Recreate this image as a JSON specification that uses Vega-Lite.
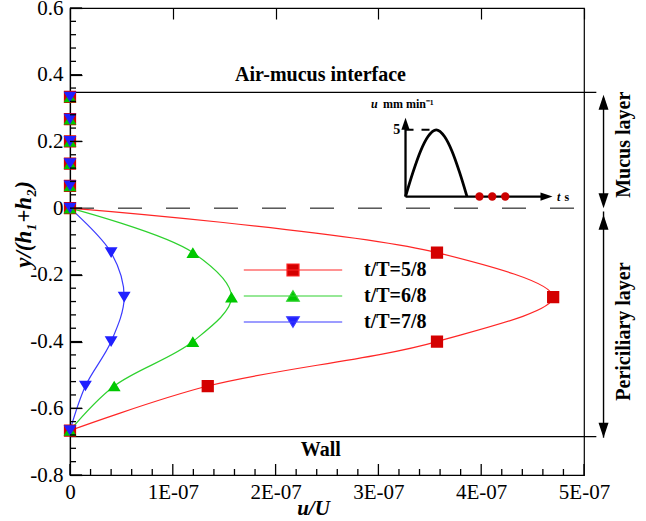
{
  "$schema": "https://vega.github.io/schema/vega-lite/v6.json",
  "width": 514,
  "height": 467,
  "autosize": {"type": "none"},
  "padding": {"left": 70, "top": 8, "right": 62, "bottom": 46},
  "background": "white",
  "config": {"view": {"stroke": "black", "strokeWidth": 1.2}, "font": "Liberation Serif"},
  "datasets": {
    "profiles": [
      {"series": "t/T=5/8", "y": 0.3333, "u": 0},
      {"series": "t/T=5/8", "y": 0.2667, "u": 0},
      {"series": "t/T=5/8", "y": 0.2, "u": 0},
      {"series": "t/T=5/8", "y": 0.1333, "u": 0},
      {"series": "t/T=5/8", "y": 0.0667, "u": 0},
      {"series": "t/T=5/8", "y": 0, "u": 0},
      {"series": "t/T=5/8", "y": -0.1333, "u": 3.57e-7},
      {"series": "t/T=5/8", "y": -0.2667, "u": 4.70e-7},
      {"series": "t/T=5/8", "y": -0.4, "u": 3.57e-7},
      {"series": "t/T=5/8", "y": -0.5333, "u": 1.34e-7},
      {"series": "t/T=5/8", "y": -0.6667, "u": 0},
      {"series": "t/T=6/8", "y": 0.3333, "u": 0},
      {"series": "t/T=6/8", "y": 0.2667, "u": 0},
      {"series": "t/T=6/8", "y": 0.2, "u": 0},
      {"series": "t/T=6/8", "y": 0.1333, "u": 0},
      {"series": "t/T=6/8", "y": 0.0667, "u": 0},
      {"series": "t/T=6/8", "y": 0, "u": 0},
      {"series": "t/T=6/8", "y": -0.1333, "u": 1.195e-7},
      {"series": "t/T=6/8", "y": -0.2667, "u": 1.571e-7},
      {"series": "t/T=6/8", "y": -0.4, "u": 1.195e-7},
      {"series": "t/T=6/8", "y": -0.5333, "u": 0.43e-7},
      {"series": "t/T=6/8", "y": -0.6667, "u": 0},
      {"series": "t/T=7/8", "y": 0.3333, "u": 0},
      {"series": "t/T=7/8", "y": 0.2667, "u": 0},
      {"series": "t/T=7/8", "y": 0.2, "u": 0},
      {"series": "t/T=7/8", "y": 0.1333, "u": 0},
      {"series": "t/T=7/8", "y": 0.0667, "u": 0},
      {"series": "t/T=7/8", "y": 0, "u": 0},
      {"series": "t/T=7/8", "y": -0.1333, "u": 0.40e-7},
      {"series": "t/T=7/8", "y": -0.2667, "u": 0.527e-7},
      {"series": "t/T=7/8", "y": -0.4, "u": 0.40e-7},
      {"series": "t/T=7/8", "y": -0.5333, "u": 0.15e-7},
      {"series": "t/T=7/8", "y": -0.6667, "u": 0}
    ],
    "ytick_major": [{"u": 0, "v": -0.8}, {"u": 0, "v": -0.6}, {"u": 0, "v": -0.4}, {"u": 0, "v": -0.2}, {"u": 0, "v": 0}, {"u": 0, "v": 0.2}, {"u": 0, "v": 0.4}, {"u": 0, "v": 0.6}],
    "ytick_minor": [{"u": 0, "v": -0.76}, {"u": 0, "v": -0.72}, {"u": 0, "v": -0.68}, {"u": 0, "v": -0.64}, {"u": 0, "v": -0.56}, {"u": 0, "v": -0.52}, {"u": 0, "v": -0.48}, {"u": 0, "v": -0.44}, {"u": 0, "v": -0.36}, {"u": 0, "v": -0.32}, {"u": 0, "v": -0.28}, {"u": 0, "v": -0.24}, {"u": 0, "v": -0.16}, {"u": 0, "v": -0.12}, {"u": 0, "v": -0.08}, {"u": 0, "v": -0.04}, {"u": 0, "v": 0.04}, {"u": 0, "v": 0.08}, {"u": 0, "v": 0.12}, {"u": 0, "v": 0.16}, {"u": 0, "v": 0.24}, {"u": 0, "v": 0.28}, {"u": 0, "v": 0.32}, {"u": 0, "v": 0.36}, {"u": 0, "v": 0.44}, {"u": 0, "v": 0.48}, {"u": 0, "v": 0.52}, {"u": 0, "v": 0.56}],
    "xtick_major": [{"v": 0, "y": -0.8}, {"v": 1e-7, "y": -0.8}, {"v": 2e-7, "y": -0.8}, {"v": 3e-7, "y": -0.8}, {"v": 4e-7, "y": -0.8}, {"v": 5e-7, "y": -0.8}],
    "xtick_minor": [{"v": 2e-8, "y": -0.8}, {"v": 4e-8, "y": -0.8}, {"v": 6e-8, "y": -0.8}, {"v": 8e-8, "y": -0.8}, {"v": 1.2e-7, "y": -0.8}, {"v": 1.4e-7, "y": -0.8}, {"v": 1.6e-7, "y": -0.8}, {"v": 1.8e-7, "y": -0.8}, {"v": 2.2e-7, "y": -0.8}, {"v": 2.4e-7, "y": -0.8}, {"v": 2.6e-7, "y": -0.8}, {"v": 2.8e-7, "y": -0.8}, {"v": 3.2e-7, "y": -0.8}, {"v": 3.4e-7, "y": -0.8}, {"v": 3.6e-7, "y": -0.8}, {"v": 3.8e-7, "y": -0.8}, {"v": 4.2e-7, "y": -0.8}, {"v": 4.4e-7, "y": -0.8}, {"v": 4.6e-7, "y": -0.8}, {"v": 4.8e-7, "y": -0.8}],
    "hlines": [
      {"y": 0.347, "u": 0, "u2": 5.12e-7},
      {"y": -0.685, "u": 0, "u2": 5.12e-7}
    ],
    "zeroline": [{"y": 0, "u": 0, "u2": 5.12e-7}],
    "notes": [
      {"label": "Air-mucus interface", "u": 2.437e-7, "y": 0.40},
      {"label": "Wall", "u": 2.44e-7, "y": -0.724}
    ],
    "sidenotes": [
      {"label": "Mucus layer", "u": 5.385e-7, "y": 0.19},
      {"label": "Periciliary layer", "u": 5.385e-7, "y": -0.37}
    ],
    "arrows": [
      {"u": 5.19e-7, "y": 0.33, "y2": 0.01},
      {"u": 5.19e-7, "y": -0.01, "y2": -0.688}
    ],
    "arrowheads": [
      {"u": 5.19e-7, "y": 0.34, "dir": "up"},
      {"u": 5.19e-7, "y": 0.0, "dir": "down"},
      {"u": 5.19e-7, "y": -0.02, "dir": "up"},
      {"u": 5.19e-7, "y": -0.688, "dir": "down"}
    ],
    "inset_curve": [
      {"t": 0, "u": 0},
      {"t": 0.5, "u": 1.83},
      {"t": 1.0, "u": 3.4},
      {"t": 1.5, "u": 4.5},
      {"t": 2.05, "u": 5},
      {"t": 2.6, "u": 4.5},
      {"t": 3.1, "u": 3.4},
      {"t": 3.6, "u": 1.83},
      {"t": 4.1, "u": 0}
    ],
    "inset_axes": [
      {"t": 0, "u": 0, "t2": 9.3, "u2": 0},
      {"t": 0, "u": 0, "t2": 0, "u2": 5.4}
    ],
    "inset_heads": [
      {"t": 9.8, "u": 0, "dir": "right"},
      {"t": 0, "u": 5.9, "dir": "up"}
    ],
    "inset_dash": [{"t": 0, "u": 5, "t2": 2.05, "u2": 5}],
    "inset_dots": [
      {"t": 4.93, "u": 0},
      {"t": 5.78, "u": 0},
      {"t": 6.65, "u": 0}
    ],
    "inset_italic": [
      {"label": "u", "t": -2.3, "u": 6.9},
      {"label": "t", "t": 10.1, "u": 0}
    ],
    "inset_plain": [
      {"label": "mm min⁻¹", "t": -1.5, "u": 6.9},
      {"label": "s", "t": 10.6, "u": 0}
    ],
    "inset_five": [{"label": "5", "t": -0.35, "u": 5}]
  },
  "layer": [
    {
      "data": {"name": "hlines"},
      "mark": {"type": "rule", "stroke": "black", "strokeWidth": 1.4},
      "encoding": {
        "x": {
          "field": "u", "type": "quantitative",
          "scale": {"domain": [0, 5e-7], "nice": false, "zero": false},
          "axis": {
            "orient": "bottom",
            "title": "u/U",
            "values": [0, 1e-7, 2e-7, 3e-7, 4e-7, 5e-7],
            "labelExpr": "datum.value == 0 ? '0' : round(datum.value*1e7) + 'E-07'",
            "ticks": false,
            "grid": true,
            "gridDash": [11, 2000],
            "gridColor": "black",
            "gridWidth": 1.2,
            "gridOpacity": 1,
            "labelPadding": 6,
            "labelFont": "Liberation Serif",
            "labelFontSize": 21,
            "labelColor": "black",
            "labelOverlap": false,
            "labelFlush": false,
            "domainColor": "black",
            "domainWidth": 1.2,
            "titleFont": "Liberation Serif",
            "titleFontSize": 21,
            "titleFontWeight": "bold",
            "titleFontStyle": "italic",
            "titleColor": "black",
            "titleX": 243,
            "titleY": 33,
            "titleBaseline": "middle"
          }
        },
        "x2": {"field": "u2"},
        "y": {
          "field": "y", "type": "quantitative",
          "scale": {"domain": [-0.8, 0.6], "nice": false, "zero": false},
          "axis": {
            "orient": "left",
            "title": "y/(h₁+h₂)",
            "values": [-0.8, -0.6, -0.4, -0.2, 0, 0.2, 0.4, 0.6],
            "labelExpr": "abs(datum.value) < 1e-9 ? '0' : replace(format(datum.value, '.1f'), '−', '-')",
            "ticks": false,
            "grid": true,
            "gridDash": [12, 2000],
            "gridColor": "black",
            "gridWidth": 1.2,
            "gridOpacity": 1,
            "labelPadding": 7,
            "labelFont": "Liberation Serif",
            "labelFontSize": 21,
            "labelColor": "black",
            "labelOverlap": false,
            "labelFlush": false,
            "domainColor": "black",
            "domainWidth": 1.2,
            "titleFont": "Liberation Serif",
            "titleFontSize": 23,
            "titleFontWeight": "bold",
            "titleFontStyle": "italic",
            "titleColor": "black",
            "titleX": -47,
            "titleY": 216,
            "titleAngle": 270,
            "titleBaseline": "middle",
            "titleAlign": "center"
          }
        }
      }
    },
    {
      "data": {"name": "zeroline"},
      "mark": {"type": "rule", "stroke": "black", "strokeWidth": 1, "strokeDash": [24, 24]},
      "encoding": {
        "x": {"field": "u", "type": "quantitative", "scale": {"domain": [0, 5e-7], "nice": false, "zero": false}, "axis": null},
        "x2": {"field": "u2"},
        "y": {"field": "y", "type": "quantitative", "scale": {"domain": [-0.8, 0.6], "nice": false, "zero": false}, "axis": null}
      }
    },
    {
      "data": {"name": "arrows"},
      "mark": {"type": "rule", "stroke": "black", "strokeWidth": 1.4},
      "encoding": {
        "x": {"field": "u", "type": "quantitative", "scale": {"domain": [0, 5e-7], "nice": false, "zero": false}, "axis": null},
        "y": {"field": "y", "type": "quantitative", "scale": {"domain": [-0.8, 0.6], "nice": false, "zero": false}, "axis": null},
        "y2": {"field": "y2"}
      }
    },
    {
      "data": {"name": "profiles"},
      "transform": [{"filter": "datum.y <= 0"}],
      "mark": {"type": "line", "interpolate": "catmull-rom", "strokeWidth": 1.2},
      "encoding": {
        "x": {"field": "u", "type": "quantitative", "scale": {"domain": [0, 5e-7], "nice": false, "zero": false}, "axis": null},
        "y": {"field": "y", "type": "quantitative", "scale": {"domain": [-0.8, 0.6], "nice": false, "zero": false}, "axis": null},
        "stroke": {
          "field": "series", "type": "nominal",
          "scale": {"domain": ["t/T=5/8", "t/T=6/8", "t/T=7/8"], "range": ["#ff2626", "#2ed12e", "#3a3aff"]},
          "legend": {
            "title": null, "orient": "none", "legendX": 213, "legendY": 252, "padding": 0,
            "symbolSize": 144, "symbolStrokeWidth": 1.2, "labelFont": "Liberation Serif", "labelFontSize": 20, "labelFontWeight": "bold",
            "labelColor": "black", "labelOffset": 61, "rowPadding": 6
          }
        },
        "order": {"field": "y", "sort": "descending"}
      }
    },
    {
      "data": {"name": "profiles"},
      "mark": {"type": "point", "filled": true, "size": 150, "opacity": 1, "strokeWidth": 0},
      "encoding": {
        "x": {"field": "u", "type": "quantitative", "scale": {"domain": [0, 5e-7], "nice": false, "zero": false}, "axis": null},
        "y": {"field": "y", "type": "quantitative", "scale": {"domain": [-0.8, 0.6], "nice": false, "zero": false}, "axis": null},
        "fill": {
          "field": "series", "type": "nominal",
          "scale": {"domain": ["t/T=5/8", "t/T=6/8", "t/T=7/8"], "range": ["#d40000", "#00c800", "#2020ff"]},
          "legend": {
            "title": null, "orient": "none", "legendX": 213, "legendY": 252, "padding": 0,
            "symbolSize": 144, "symbolStrokeWidth": 1.2, "labelFont": "Liberation Serif", "labelFontSize": 20, "labelFontWeight": "bold",
            "labelColor": "black", "labelOffset": 61, "rowPadding": 6
          }
        },
        "shape": {
          "field": "series", "type": "nominal",
          "scale": {"domain": ["t/T=5/8", "t/T=6/8", "t/T=7/8"], "range": ["M-8.2,0L8.2,0M-1,-1L1,-1L1,1L-1,1Z", "M-8.2,0L8.2,0M0,-0.87L1.05,0.87L-1.05,0.87Z", "M-8.2,0L8.2,0M0,0.87L1.05,-0.87L-1.05,-0.87Z"]},
          "legend": {
            "title": null, "orient": "none", "legendX": 213, "legendY": 252, "padding": 0,
            "symbolSize": 144, "symbolStrokeWidth": 1.2, "labelFont": "Liberation Serif", "labelFontSize": 20, "labelFontWeight": "bold",
            "labelColor": "black", "labelOffset": 61, "rowPadding": 6
          }
        }
      }
    },
    {
      "data": {"name": "notes"},
      "mark": {"type": "text", "font": "Liberation Serif", "fontSize": 20, "fontWeight": "bold", "color": "black", "align": "center", "baseline": "middle"},
      "encoding": {
        "x": {"field": "u", "type": "quantitative", "scale": {"domain": [0, 5e-7], "nice": false, "zero": false}, "axis": null},
        "y": {"field": "y", "type": "quantitative", "scale": {"domain": [-0.8, 0.6], "nice": false, "zero": false}, "axis": null},
        "text": {"field": "label"}
      }
    },
    {
      "data": {"name": "sidenotes"},
      "mark": {"type": "text", "font": "Liberation Serif", "fontSize": 20, "fontWeight": "bold", "color": "black", "align": "center", "baseline": "middle", "angle": 270},
      "encoding": {
        "x": {"field": "u", "type": "quantitative", "scale": {"domain": [0, 5e-7], "nice": false, "zero": false}, "axis": null},
        "y": {"field": "y", "type": "quantitative", "scale": {"domain": [-0.8, 0.6], "nice": false, "zero": false}, "axis": null},
        "text": {"field": "label"}
      }
    },
    {
      "data": {"name": "arrowheads"},
      "transform": [{"filter": "datum.dir === 'up'"}],
      "mark": {"type": "point", "filled": true, "color": "black", "opacity": 1, "size": 400, "shape": "M0,0L-0.5,1.5L0.5,1.5Z"},
      "encoding": {
        "x": {"field": "u", "type": "quantitative", "scale": {"domain": [0, 5e-7], "nice": false, "zero": false}, "axis": null},
        "y": {"field": "y", "type": "quantitative", "scale": {"domain": [-0.8, 0.6], "nice": false, "zero": false}, "axis": null}
      }
    },
    {
      "data": {"name": "arrowheads"},
      "transform": [{"filter": "datum.dir === 'down'"}],
      "mark": {"type": "point", "filled": true, "color": "black", "opacity": 1, "size": 400, "shape": "M0,0L-0.5,-1.5L0.5,-1.5Z"},
      "encoding": {
        "x": {"field": "u", "type": "quantitative", "scale": {"domain": [0, 5e-7], "nice": false, "zero": false}, "axis": null},
        "y": {"field": "y", "type": "quantitative", "scale": {"domain": [-0.8, 0.6], "nice": false, "zero": false}, "axis": null}
      }
    },
    {
      "data": {"name": "inset_axes"},
      "mark": {"type": "rule", "stroke": "black", "strokeWidth": 2.3},
      "encoding": {
        "x": {"field": "t", "type": "quantitative", "scale": {"domain": [-22.37, 11.9], "nice": false, "zero": false}, "axis": null},
        "x2": {"field": "t2"},
        "y": {"field": "u", "type": "quantitative", "scale": {"domain": [-20.87, 14.13], "nice": false, "zero": false}, "axis": null},
        "y2": {"field": "u2"}
      }
    },
    {
      "data": {"name": "inset_dash"},
      "mark": {"type": "rule", "stroke": "black", "strokeWidth": 2, "strokeDash": [8, 8]},
      "encoding": {
        "x": {"field": "t", "type": "quantitative", "scale": {"domain": [-22.37, 11.9], "nice": false, "zero": false}, "axis": null},
        "x2": {"field": "t2"},
        "y": {"field": "u", "type": "quantitative", "scale": {"domain": [-20.87, 14.13], "nice": false, "zero": false}, "axis": null},
        "y2": {"field": "u2"}
      }
    },
    {
      "data": {"name": "inset_curve"},
      "mark": {"type": "line", "interpolate": "monotone", "stroke": "black", "strokeWidth": 2.8},
      "encoding": {
        "x": {"field": "t", "type": "quantitative", "scale": {"domain": [-22.37, 11.9], "nice": false, "zero": false}, "axis": null},
        "y": {"field": "u", "type": "quantitative", "scale": {"domain": [-20.87, 14.13], "nice": false, "zero": false}, "axis": null}
      }
    },
    {
      "data": {"name": "inset_heads"},
      "transform": [{"filter": "datum.dir === 'right'"}],
      "mark": {"type": "point", "filled": true, "color": "black", "opacity": 1, "size": 225, "shape": "M0,0L-1.6,-0.55L-1.6,0.55Z"},
      "encoding": {
        "x": {"field": "t", "type": "quantitative", "scale": {"domain": [-22.37, 11.9], "nice": false, "zero": false}, "axis": null},
        "y": {"field": "u", "type": "quantitative", "scale": {"domain": [-20.87, 14.13], "nice": false, "zero": false}, "axis": null}
      }
    },
    {
      "data": {"name": "inset_heads"},
      "transform": [{"filter": "datum.dir === 'up'"}],
      "mark": {"type": "point", "filled": true, "color": "black", "opacity": 1, "size": 225, "shape": "M0,0L-0.55,1.6L0.55,1.6Z"},
      "encoding": {
        "x": {"field": "t", "type": "quantitative", "scale": {"domain": [-22.37, 11.9], "nice": false, "zero": false}, "axis": null},
        "y": {"field": "u", "type": "quantitative", "scale": {"domain": [-20.87, 14.13], "nice": false, "zero": false}, "axis": null}
      }
    },
    {
      "data": {"name": "inset_dots"},
      "mark": {"type": "circle", "color": "#cc0000", "opacity": 1, "size": 70},
      "encoding": {
        "x": {"field": "t", "type": "quantitative", "scale": {"domain": [-22.37, 11.9], "nice": false, "zero": false}, "axis": null},
        "y": {"field": "u", "type": "quantitative", "scale": {"domain": [-20.87, 14.13], "nice": false, "zero": false}, "axis": null}
      }
    },
    {
      "data": {"name": "inset_italic"},
      "mark": {"type": "text", "font": "Liberation Serif", "fontSize": 12, "fontWeight": "bold", "fontStyle": "italic", "color": "black", "align": "left", "baseline": "middle"},
      "encoding": {
        "x": {"field": "t", "type": "quantitative", "scale": {"domain": [-22.37, 11.9], "nice": false, "zero": false}, "axis": null},
        "y": {"field": "u", "type": "quantitative", "scale": {"domain": [-20.87, 14.13], "nice": false, "zero": false}, "axis": null},
        "text": {"field": "label"}
      }
    },
    {
      "data": {"name": "inset_plain"},
      "mark": {"type": "text", "font": "Liberation Serif", "fontSize": 12, "fontWeight": "bold", "color": "black", "align": "left", "baseline": "middle"},
      "encoding": {
        "x": {"field": "t", "type": "quantitative", "scale": {"domain": [-22.37, 11.9], "nice": false, "zero": false}, "axis": null},
        "y": {"field": "u", "type": "quantitative", "scale": {"domain": [-20.87, 14.13], "nice": false, "zero": false}, "axis": null},
        "text": {"field": "label"}
      }
    },
    {
      "data": {"name": "inset_five"},
      "mark": {"type": "text", "font": "Liberation Serif", "fontSize": 14, "fontWeight": "bold", "color": "black", "align": "right", "baseline": "middle"},
      "encoding": {
        "x": {"field": "t", "type": "quantitative", "scale": {"domain": [-22.37, 11.9], "nice": false, "zero": false}, "axis": null},
        "y": {"field": "u", "type": "quantitative", "scale": {"domain": [-20.87, 14.13], "nice": false, "zero": false}, "axis": null},
        "text": {"field": "label"}
      }
    },
    {
      "data": {"name": "ytick_major"},
      "mark": {"type": "point", "filled": false, "stroke": "black", "strokeWidth": 1.3, "opacity": 1, "size": 144, "shape": "M0,0L2,0"},
      "encoding": {
        "x": {"field": "u", "type": "quantitative", "scale": {"domain": [0, 5e-7], "nice": false, "zero": false}, "axis": null},
        "y": {"field": "v", "type": "quantitative", "scale": {"domain": [-0.8, 0.6], "nice": false, "zero": false}, "axis": null}
      }
    },
    {
      "data": {"name": "ytick_minor"},
      "mark": {"type": "point", "filled": false, "stroke": "black", "strokeWidth": 1.3, "opacity": 1, "size": 36, "shape": "M0,0L2,0"},
      "encoding": {
        "x": {"field": "u", "type": "quantitative", "scale": {"domain": [0, 5e-7], "nice": false, "zero": false}, "axis": null},
        "y": {"field": "v", "type": "quantitative", "scale": {"domain": [-0.8, 0.6], "nice": false, "zero": false}, "axis": null}
      }
    },
    {
      "data": {"name": "xtick_major"},
      "mark": {"type": "point", "filled": false, "stroke": "black", "strokeWidth": 1.3, "opacity": 1, "size": 121, "shape": "M0,0L0,-2"},
      "encoding": {
        "x": {"field": "v", "type": "quantitative", "scale": {"domain": [0, 5e-7], "nice": false, "zero": false}, "axis": null},
        "y": {"field": "y", "type": "quantitative", "scale": {"domain": [-0.8, 0.6], "nice": false, "zero": false}, "axis": null}
      }
    },
    {
      "data": {"name": "xtick_minor"},
      "mark": {"type": "point", "filled": false, "stroke": "black", "strokeWidth": 1.3, "opacity": 1, "size": 36, "shape": "M0,0L0,-2"},
      "encoding": {
        "x": {"field": "v", "type": "quantitative", "scale": {"domain": [0, 5e-7], "nice": false, "zero": false}, "axis": null},
        "y": {"field": "y", "type": "quantitative", "scale": {"domain": [-0.8, 0.6], "nice": false, "zero": false}, "axis": null}
      }
    }
  ],
  "resolve": {"scale": {"x": "independent", "y": "independent"}}
}
